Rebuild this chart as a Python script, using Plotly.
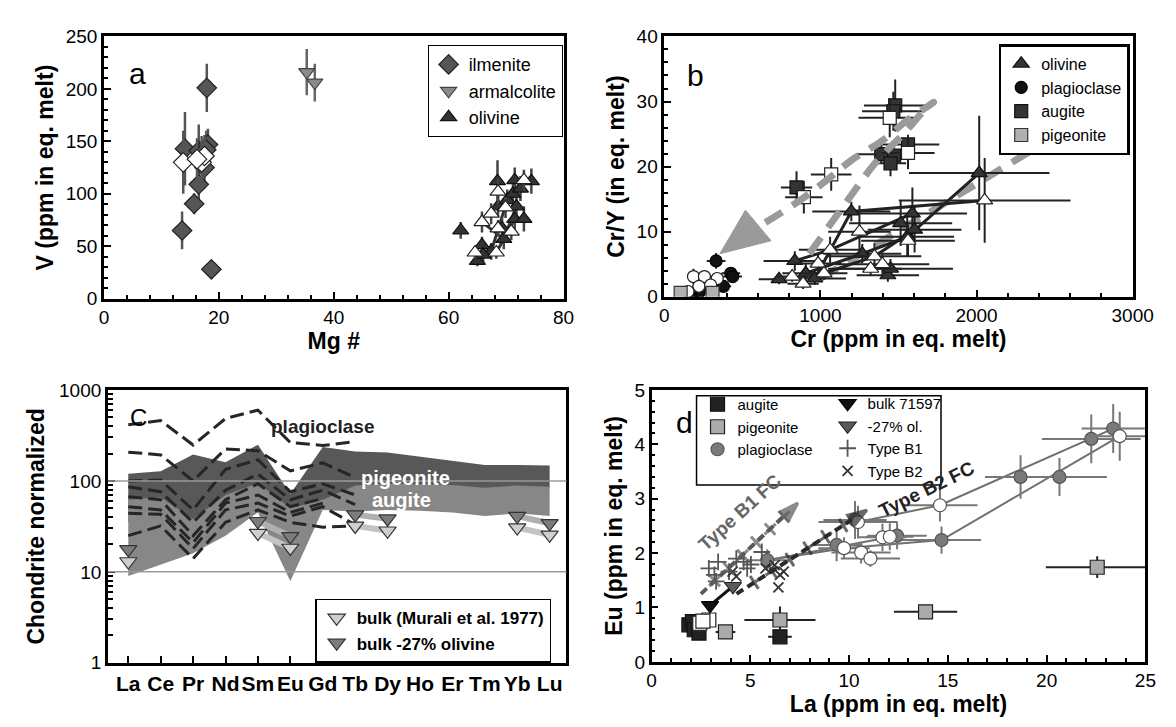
import plotly.graph_objects as go

FONT = "Liberation Sans, Arial, sans-serif"

# ================= Panel a : V vs Mg# =================
ilm_mg = [17.9, 14.1, 16.5, 18.1, 17.8, 17.5, 16.5, 15.7, 13.6, 18.7]
ilm_v = [201, 143, 141, 147, 142, 125, 109, 90.5, 65, 28]
ilm_verr = [23, 35, 25, 15, 18, 20, 15, 10, 18, 3]
ilm2_mg = [13.8, 17.0, 17.5, 16.2]
ilm2_v = [130, 130, 136, 133]
ilm2_verr = [30, 25, 20, 20]
arm_mg = [35.3, 36.7]
arm_v = [216, 206]
arm_verr = [22, 18]
ola_mg = [62.1, 65.0, 65.8, 68.5, 71.5, 74.4, 71.5, 68.6, 70.2, 67.4, 69.6, 71.2, 73.1, 69.3, 71.8, 66.0, 72.5]
ola_v = [65, 36, 51, 112, 113, 112, 76, 88, 94, 45, 57, 100, 76, 67, 88, 42, 105]
ola_verr = [8, 5, 8, 20, 12, 12, 15, 10, 10, 8, 10, 15, 12, 10, 15, 8, 12]
ola2_mg = [64.6, 65.8, 67.4, 68.6, 69.9, 68.6, 70.9, 73.1, 68.3]
ola2_v = [44, 73, 81, 102, 87, 67, 64, 113, 44]
ola2_verr = [6, 10, 10, 12, 10, 8, 8, 10, 6]
ola_line1_mg = [68.3, 71.5]
ola_line1_v = [44, 76]
ola_line2_mg = [65.8, 69.6, 71.8]
ola_line2_v = [73, 57, 88]
ola_line3_mg = [67.4, 70.2, 72.5]
ola_line3_v = [45, 94, 105]

# ================= Panel b : Cr/Y vs Cr =================
aug_cr = [847, 1479, 1467, 1561, 1390, 1472, 1449]
aug_cry = [16.8, 29.4, 28.5, 23.4, 21.9, 21.7, 20.5]
aug_crerr = [100, 200, 200, 200, 150, 100, 100]
aug_cryerr = [2.5, 4.0, 3.0, 1.5, 1.5, 1.2, 2.0]
aug2_cr = [894, 1069, 1444, 1561]
aug2_cry = [15.3, 18.8, 27.5, 22.1]
aug2_crerr = [120, 130, 200, 170]
aug2_cryerr = [2.5, 2.5, 3.0, 2.5]
olb_cr = [735, 836, 906, 964, 1198, 1268, 1432, 1449, 1514, 1556, 1589, 1603, 2017]
olb_cry = [2.7, 5.5, 3.6, 2.8, 13.1, 6.6, 3.3, 4.3, 11.3, 9.2, 12.8, 10.3, 19.0]
olb_crerr = [130, 200, 150, 200, 250, 250, 200, 400, 330, 300, 350, 300, 450]
olb_cryerr = [0.8, 1.5, 1.5, 1.0, 1.5, 1.5, 1.0, 1.5, 3.5, 3.0, 4.0, 3.5, 8.8]
olb2_cr = [819, 889, 985, 1023, 1062, 1250, 1322, 1346, 1397, 1561, 2052]
olb2_cry = [3.1, 2.0, 5.1, 3.6, 7.2, 10.0, 4.3, 6.2, 5.0, 8.6, 14.8]
olb2_crerr = [100, 100, 150, 150, 200, 200, 200, 300, 300, 300, 550]
olb2_cryerr = [0.8, 0.8, 1.5, 1.0, 2.0, 4.0, 1.0, 2.0, 1.5, 2.5, 6.5]
olb_line1_cr = [964, 1198, 2052]
olb_line1_cry = [2.8, 13.1, 14.8]
olb_line2_cr = [906, 1268, 1556, 2017]
olb_line2_cry = [3.6, 6.6, 9.2, 19.0]
olb_line3_cr = [1023, 1346, 1603]
olb_line3_cry = [3.6, 6.2, 10.3]
olb_line4_cr = [836, 1062, 1589]
olb_line4_cry = [5.5, 7.2, 12.8]
plb_cr = [332, 426, 438, 379, 180, 227]
plb_cry = [5.5, 3.6, 3.1, 1.6, 0.2, 0.8]
plb_crerr = [60, 60, 60, 50, 30, 30]
plb_cryerr = [1.2, 0.8, 0.8, 0.6, 0.2, 0.3]
plb2_cr = [187, 257, 222, 339, 297, 152]
plb2_cry = [3.1, 3.1, 1.6, 2.8, 1.8, 0.8]
plb2_crerr = [40, 40, 40, 40, 40, 30]
plb2_cryerr = [1.2, 1.0, 0.6, 0.8, 0.6, 0.3]
pigb_cr = [105, 309]
pigb_cry = [0.6, 0.6]
trend1_cr = [929, 1150, 1350, 1550, 1678, 1725, 1690, 1560, 1397, 1200, 1046, 850, 620]
trend1_cry = [6.6, 14.0, 20.5, 25.5, 29.0, 29.9, 29.3, 27.2, 24.0, 21.0, 18.0, 14.5, 11.0]
trend1_head_cr = [356, 520, 684, 356]
trend1_head_cry = [6.6, 13.3, 8.6, 6.6]
trend2_cr = [1000, 2368]
trend2_cry = [2.8, 22.7]

# ================= Panel c : REE patterns =================
ree = ["La", "Ce", "Pr", "Nd", "Sm", "Eu", "Gd", "Tb", "Dy", "Ho", "Er", "Tm", "Yb", "Lu"]
pig_top = [120, 128, 195, 160, 250, 72, 236, 210, 205, 185, 165, 150, 150, 148]
pig_bot = [35, 40, 22, 50, 60, 35, 55, 80, 85, 85, 84, 80, 84, 82]
aug_top = [62, 66, 38, 70, 95, 50, 62, 89, 93, 92, 90, 84, 89, 86]
aug_bot = [9, 12, 16, 25, 45, 7.9, 48, 46, 48, 47, 45, 41, 44, 41]
plag_ree = ree[:8]
plag_patterns = [
    [415, 460, 248, 485, 600, 264, 245, 270],
    [207, 193, 100, 225, 214, 129, 158, 109],
    [100, 102, 48, 134, 171, 76, 93, 70],
    [86, 76, 35, 79, 119, 62, 79, 55],
    [67, 62, 25, 62, 93, 52, 64, None],
    [52, 48, 21, 57, 70, 45, 57, None],
    [44, 43, 18, 48, 57, 41, 52, 33],
    [25, 32, 14, 35, 48, 35, 31, 32],
]
bulk_murali = [13, None, None, None, 26.7, 18.3, None, 32, 28.3, None, None, None, 30.7, 25.5]
bulk_minus_ol = [17.7, None, None, None, 36, 24.6, None, 42.6, 38.4, None, None, None, 41, 34.2]
log_tickvals = [1, 10, 100, 1000]
log_minor_tickvals = [2, 3, 4, 5, 6, 7, 8, 9, 20, 30, 40, 50, 60, 70, 80, 90,
                      200, 300, 400, 500, 600, 700, 800, 900]

# ================= Panel d : Eu vs La =================
augd_la = [1.89, 2.07, 2.16, 2.4, 6.5]
augd_eu = [0.68, 0.74, 0.59, 0.53, 0.46]
augd_laerr = [0.2, 0.2, 0.2, 0.2, 0.6]
augd_euerr = [0.05, 0.05, 0.05, 0.05, 0.05]
pigd_la = [3.74, 6.5, 13.87, 22.56]
pigd_eu = [0.55, 0.77, 0.92, 1.74]
pigd_laerr = [0.5, 1.8, 1.6, 2.6]
pigd_euerr = [0.04, 0.25, 0.05, 0.2]
sqd2_la = [2.44, 2.9, 2.6]
sqd2_eu = [0.71, 0.77, 0.75]
pld_la = [5.86, 9.37, 10.3, 12.43, 14.68, 18.68, 20.65, 22.26, 23.37]
pld_eu = [1.87, 2.15, 2.61, 2.32, 2.24, 3.40, 3.40, 4.10, 4.29]
pld_laerr = [1.0, 1.3, 1.6, 1.5, 2.0, 1.8, 2.4, 2.5, 1.6]
pld_euerr = [0.2, 0.3, 0.35, 0.25, 0.25, 0.4, 0.35, 0.45, 0.45]
pld2_la = [9.74, 10.45, 10.61, 11.08, 11.69, 12.06, 14.6, 23.7]
pld2_eu = [2.09, 2.57, 2.01, 1.90, 2.29, 2.30, 2.88, 4.15]
pld2_laerr = [1.3, 2.0, 1.5, 1.5, 1.2, 1.2, 1.9, 1.5]
pld2_euerr = [0.2, 0.3, 0.2, 0.15, 0.25, 0.25, 0.3, 0.45]
pld_line1_la = [5.86, 12.43]
pld_line1_eu = [1.87, 2.32]
pld_line2_la = [5.86, 9.74, 14.68, 23.7]
pld_line2_eu = [1.87, 2.09, 2.24, 4.15]
pld_line3_la = [10.45, 14.6, 23.37]
pld_line3_eu = [2.57, 2.88, 4.29]
bulk_la = [2.96, 4.12]
bulk_eu = [1.04, 1.39]
typeb1_la = [2.9, 3.37, 4.66, 5.03, 5.58, 4.29, 4.84, 3.18, 3.92, 3.27]
typeb1_eu = [1.72, 1.84, 1.84, 1.79, 2.02, 1.90, 1.72, 1.60, 1.66, 1.48]
typeb2_la = [4.1, 4.29, 6.42, 6.5, 5.77, 6.69, 6.23]
typeb2_eu = [1.66, 1.57, 1.37, 1.60, 1.72, 1.66, 1.78]
fc_b1_la = [2.5, 3.2, 3.9, 4.6, 5.3, 6.0, 6.7, 7.4]
fc_b1_eu = [1.25, 1.49, 1.72, 1.96, 2.2, 2.44, 2.67, 2.92]
fc_b2_la = [4.3, 5.2, 6.1, 7.0, 7.9, 8.8, 9.7, 10.9]
fc_b2_eu = [1.25, 1.46, 1.67, 1.88, 2.09, 2.3, 2.51, 2.79]

fig = go.Figure()


def mk(symbol, size, color, lc="#111", lw=1.2):
    return dict(symbol=symbol, size=size, color=color, line=dict(color=lc, width=lw))


def err(arr, color, th=2.2):
    return dict(type="data", array=arr, color=color, thickness=th, width=0)


# ---------- panel a traces
fig.add_trace(go.Scatter(x=ilm_mg, y=ilm_v, mode="markers", name="ilmenite", legend="legend", legendrank=1,
                         marker=mk("diamond", 15, "#555555", "#222"), error_y=err(ilm_verr, "#555", 2.5),
                         xaxis="x", yaxis="y"))
fig.add_trace(go.Scatter(x=ilm2_mg, y=ilm2_v, mode="markers", showlegend=False,
                         marker=mk("diamond", 15, "white", "#222"), error_y=err(ilm2_verr, "#555", 2.5),
                         xaxis="x", yaxis="y"))
fig.add_trace(go.Scatter(x=arm_mg, y=arm_v, mode="markers", name="armalcolite", legend="legend", legendrank=2,
                         marker=mk("triangle-down", 14, "#8a8a8a", "#444"), error_y=err(arm_verr, "#666", 2.5),
                         xaxis="x", yaxis="y"))
for lx, ly in [(ola_line1_mg, ola_line1_v), (ola_line2_mg, ola_line2_v), (ola_line3_mg, ola_line3_v)]:
    fig.add_trace(go.Scatter(x=lx, y=ly, mode="lines", showlegend=False,
                             line=dict(color="#333", width=3), xaxis="x", yaxis="y"))
fig.add_trace(go.Scatter(x=ola_mg, y=ola_v, mode="markers", name="olivine", legend="legend", legendrank=3,
                         marker=mk("triangle-up", 14, "#333333", "#111"), error_y=err(ola_verr, "#444", 2.5),
                         xaxis="x", yaxis="y"))
fig.add_trace(go.Scatter(x=ola2_mg, y=ola2_v, mode="markers", showlegend=False,
                         marker=mk("triangle-up", 14, "white", "#222"), error_y=err(ola2_verr, "#444", 2.5),
                         xaxis="x", yaxis="y"))

# ---------- panel b traces
fig.add_trace(go.Scatter(x=trend2_cr, y=trend2_cry, mode="lines", showlegend=False,
                         line=dict(color="#9a9a9a", width=7, dash="20px,12px"), xaxis="x2", yaxis="y2"))
for lx, ly in [(olb_line1_cr, olb_line1_cry), (olb_line2_cr, olb_line2_cry),
               (olb_line3_cr, olb_line3_cry), (olb_line4_cr, olb_line4_cry)]:
    fig.add_trace(go.Scatter(x=lx, y=ly, mode="lines", showlegend=False,
                             line=dict(color="#222", width=3), xaxis="x2", yaxis="y2"))
fig.add_trace(go.Scatter(x=olb_cr, y=olb_cry, mode="markers", name="olivine", legend="legend2", legendrank=1,
                         marker=mk("triangle-up", 14, "#333333", "#111"),
                         error_x=err(olb_crerr, "#222", 2), error_y=err(olb_cryerr, "#222", 2),
                         xaxis="x2", yaxis="y2"))
fig.add_trace(go.Scatter(x=olb2_cr, y=olb2_cry, mode="markers", showlegend=False,
                         marker=mk("triangle-up", 14, "white", "#222"),
                         error_x=err(olb2_crerr, "#222", 2), error_y=err(olb2_cryerr, "#222", 2),
                         xaxis="x2", yaxis="y2"))
fig.add_trace(go.Scatter(x=plb_cr, y=plb_cry, mode="markers", name="plagioclase", legend="legend2", legendrank=2,
                         marker=mk("circle", 12, "#111111", "#000"),
                         error_x=err(plb_crerr, "#222", 2), error_y=err(plb_cryerr, "#222", 2),
                         xaxis="x2", yaxis="y2"))
fig.add_trace(go.Scatter(x=plb2_cr, y=plb2_cry, mode="markers", showlegend=False,
                         marker=mk("circle", 12, "white", "#222"),
                         error_x=err(plb2_crerr, "#222", 2), error_y=err(plb2_cryerr, "#222", 2),
                         xaxis="x2", yaxis="y2"))
fig.add_trace(go.Scatter(x=aug_cr, y=aug_cry, mode="markers", name="augite", legend="legend2", legendrank=3,
                         marker=mk("square", 13, "#333333", "#111"),
                         error_x=err(aug_crerr, "#222", 2), error_y=err(aug_cryerr, "#222", 2),
                         xaxis="x2", yaxis="y2"))
fig.add_trace(go.Scatter(x=aug2_cr, y=aug2_cry, mode="markers", showlegend=False,
                         marker=mk("square", 13, "white", "#222"),
                         error_x=err(aug2_crerr, "#222", 2), error_y=err(aug2_cryerr, "#222", 2),
                         xaxis="x2", yaxis="y2"))
fig.add_trace(go.Scatter(x=pigb_cr, y=pigb_cry, mode="markers", name="pigeonite", legend="legend2", legendrank=4,
                         marker=mk("square", 13, "#b0b0b0", "#333"), xaxis="x2", yaxis="y2"))
fig.add_trace(go.Scatter(x=trend1_cr, y=trend1_cry, mode="lines", showlegend=False,
                         line=dict(color="#9a9a9a", width=7, dash="20px,12px", shape="spline"),
                         xaxis="x2", yaxis="y2"))
fig.add_trace(go.Scatter(x=trend1_head_cr, y=trend1_head_cry, mode="lines", fill="toself",
                         fillcolor="#9a9a9a", line=dict(color="#9a9a9a", width=1), showlegend=False,
                         xaxis="x2", yaxis="y2"))

# ---------- panel c traces
fig.add_trace(go.Scatter(x=ree + ree[::-1], y=pig_top + pig_bot[::-1], mode="lines", fill="toself",
                         fillcolor="#585858", line=dict(width=0, color="#585858"), showlegend=False,
                         xaxis="x3", yaxis="y3"))
fig.add_trace(go.Scatter(x=ree + ree[::-1], y=aug_top + aug_bot[::-1], mode="lines", fill="toself",
                         fillcolor="#878787", line=dict(width=0, color="#878787"), showlegend=False,
                         xaxis="x3", yaxis="y3"))
for pat in plag_patterns:
    fig.add_trace(go.Scatter(x=plag_ree, y=pat, mode="lines", showlegend=False,
                             line=dict(color="#262626", width=3, dash="14px,6px"),
                             xaxis="x3", yaxis="y3"))
fig.add_trace(go.Scatter(x=ree, y=bulk_murali, mode="lines", showlegend=False,
                         line=dict(color="#c4c4c4", width=6), xaxis="x3", yaxis="y3"))
fig.add_trace(go.Scatter(x=ree, y=bulk_minus_ol, mode="lines", showlegend=False,
                         line=dict(color="#b0b0b0", width=6), xaxis="x3", yaxis="y3"))
fig.add_trace(go.Scatter(x=ree, y=bulk_murali, mode="markers", name="<b>bulk (Murali et al. 1977)</b>",
                         legend="legend3", legendrank=1, marker=mk("triangle-down", 15, "#cfcfcf", "#333"),
                         xaxis="x3", yaxis="y3"))
fig.add_trace(go.Scatter(x=ree, y=bulk_minus_ol, mode="markers", name="<b>bulk -27% olivine</b>",
                         legend="legend3", legendrank=2, marker=mk("triangle-down", 15, "#7c7c7c", "#333"),
                         xaxis="x3", yaxis="y3"))

# ---------- panel d traces
fig.add_trace(go.Scatter(x=augd_la, y=augd_eu, mode="markers", name="augite", legend="legend4", legendrank=1,
                         marker=mk("square", 14, "#222222", "#111"),
                         error_x=err(augd_laerr, "#222", 2), error_y=err(augd_euerr, "#222", 2),
                         xaxis="x4", yaxis="y4"))
fig.add_trace(go.Scatter(x=pigd_la, y=pigd_eu, mode="markers", name="pigeonite", legend="legend4", legendrank=2,
                         marker=mk("square", 14, "#ababab", "#222"),
                         error_x=err(pigd_laerr, "#222", 2), error_y=err(pigd_euerr, "#222", 2),
                         xaxis="x4", yaxis="y4"))
fig.add_trace(go.Scatter(x=sqd2_la, y=sqd2_eu, mode="markers", showlegend=False,
                         marker=mk("square", 14, "white", "#222"), xaxis="x4", yaxis="y4"))
for lx, ly in [(pld_line1_la, pld_line1_eu), (pld_line2_la, pld_line2_eu), (pld_line3_la, pld_line3_eu)]:
    fig.add_trace(go.Scatter(x=lx, y=ly, mode="lines", showlegend=False,
                             line=dict(color="#707070", width=2), xaxis="x4", yaxis="y4"))
fig.add_trace(go.Scatter(x=pld_la, y=pld_eu, mode="markers", name="plagioclase", legend="legend4", legendrank=3,
                         marker=mk("circle", 13, "#7a7a7a", "#555"),
                         error_x=err(pld_laerr, "#777", 2), error_y=err(pld_euerr, "#777", 2),
                         xaxis="x4", yaxis="y4"))
fig.add_trace(go.Scatter(x=pld2_la, y=pld2_eu, mode="markers", showlegend=False,
                         marker=mk("circle", 13, "white", "#555"),
                         error_x=err(pld2_laerr, "#777", 2), error_y=err(pld2_euerr, "#777", 2),
                         xaxis="x4", yaxis="y4"))
fig.add_trace(go.Scatter(x=typeb1_la, y=typeb1_eu, mode="markers", name="Type B1", legend="legend5", legendrank=3,
                         marker=dict(symbol="cross-thin", size=12, color="#555", line=dict(color="#555", width=1.8)),
                         xaxis="x4", yaxis="y4"))
fig.add_trace(go.Scatter(x=typeb2_la, y=typeb2_eu, mode="markers", name="Type B2", legend="legend5", legendrank=4,
                         marker=dict(symbol="x-thin", size=10, color="#333", line=dict(color="#333", width=1.8)),
                         xaxis="x4", yaxis="y4"))
n1 = len(fc_b1_la)
fig.add_trace(go.Scatter(x=fc_b1_la, y=fc_b1_eu, mode="lines+markers", showlegend=False,
                         line=dict(color="#5a5a5a", width=4, dash="8px,5px"),
                         marker=dict(symbol=["cross-thin"] * (n1 - 1) + ["arrow"], size=[11] * (n1 - 1) + [20],
                                     angleref="previous", color="#5a5a5a",
                                     line=dict(color="#5a5a5a", width=3)),
                         xaxis="x4", yaxis="y4"))
n2 = len(fc_b2_la)
fig.add_trace(go.Scatter(x=fc_b2_la, y=fc_b2_eu, mode="lines+markers", showlegend=False,
                         line=dict(color="#2a2a2a", width=4, dash="8px,5px"),
                         marker=dict(symbol=["cross-thin"] * (n2 - 1) + ["arrow"], size=[11] * (n2 - 1) + [20],
                                     angleref="previous", color="#2a2a2a",
                                     line=dict(color="#2a2a2a", width=3)),
                         xaxis="x4", yaxis="y4"))
fig.add_trace(go.Scatter(x=bulk_la, y=bulk_eu, mode="lines", showlegend=False,
                         line=dict(color="#111", width=3), xaxis="x4", yaxis="y4"))
fig.add_trace(go.Scatter(x=bulk_la[:1], y=bulk_eu[:1], mode="markers", name="bulk 71597", legend="legend5",
                         legendrank=1, marker=mk("triangle-down", 15, "#111111", "#000"), xaxis="x4", yaxis="y4"))
fig.add_trace(go.Scatter(x=bulk_la[1:], y=bulk_eu[1:], mode="markers", name="-27% ol.", legend="legend5",
                         legendrank=2, marker=mk("triangle-down", 15, "#5a5a5a", "#222"), xaxis="x4", yaxis="y4"))

TICK = 19
TITLE = 23


# ---------- axes
def axis(domain, anchor, rng, dtick, minor, title, standoff, **extra):
    d = dict(domain=domain, anchor=anchor, range=rng, dtick=dtick, tick0=0,
             showline=True, linecolor="black", linewidth=2.5, mirror=True,
             ticks="inside", ticklen=7, tickwidth=2, tickcolor="black",
             showgrid=False, zeroline=False,
             tickfont=dict(family=FONT, size=TICK, color="black"),
             title=dict(text=title, standoff=standoff,
                        font=dict(family=FONT, size=TITLE, color="black", weight="bold")))
    if minor:
        d["minor"] = dict(ticks="inside", ticklen=4, tickwidth=1.5, tickcolor="black", dtick=minor, showgrid=False)
    d.update(extra)
    return d


W, H = 1176, 727
xa = [93 / W, 563 / W]
ya = [1 - 289 / H, 1 - 19 / H]
xb = [666 / W, 1145 / W]
yb = [1 - 287 / H, 1 - 19 / H]
xc = [97 / W, 566 / W]
yc = [1 - 664 / H, 1 - 383 / H]
xd = [653 / W, 1158 / W]
yd = [1 - 663 / H, 1 - 383 / H]

legend_common = dict(xanchor="left", yanchor="top", bgcolor="white", bordercolor="black",
                     itemwidth=30, tracegroupgap=0)
clear = "rgba(0,0,0,0)"

fig.update_layout(
    width=W, height=H, autosize=False, margin=dict(l=0, r=0, t=0, b=0),
    paper_bgcolor="white", plot_bgcolor="white",
    font=dict(family=FONT, color="black"),
    xaxis=axis(xa, "y", [0, 80], 20, 4, "Mg #", 4),
    yaxis=axis(ya, "x", [0, 250], 50, 10, "V (ppm in eq. melt)", 6),
    xaxis2=axis(xb, "y2", [0, 3000], 1000, 200, "Cr (ppm in eq. melt)", 4),
    yaxis2=axis(yb, "x2", [0, 40], 10, 2, "Cr/Y (in eq. melt)", 6),
    xaxis3=dict(domain=xc, anchor="y3", type="category", categoryorder="array", categoryarray=ree,
                range=[-0.63, 13.52], showline=True, linecolor="black", linewidth=2.5, mirror=True,
                ticks="inside", ticklen=7, tickwidth=2, tickcolor="black", showgrid=False, zeroline=False,
                tickfont=dict(family=FONT, size=21, color="black", weight="bold")),
    yaxis3=dict(domain=yc, anchor="x3", type="log", range=[0, 3], tickmode="array", tickvals=log_tickvals,
                showline=True, linecolor="black", linewidth=2.5, mirror=True,
                ticks="inside", ticklen=7, tickwidth=2, tickcolor="black", showgrid=False, zeroline=False,
                minor=dict(ticks="inside", ticklen=5, tickwidth=1.5, tickcolor="black",
                           tickmode="array", tickvals=log_minor_tickvals, showgrid=False),
                tickfont=dict(family=FONT, size=TICK, color="black"),
                title=dict(text="Chondrite normalized", standoff=8,
                           font=dict(family=FONT, size=TITLE, color="black", weight="bold"))),
    xaxis4=axis(xd, "y4", [0, 25], 5, 1, "La (ppm in eq. melt)", 4),
    yaxis4=axis(yd, "x4", [0, 5], 1, 0.2, "Eu (ppm in eq. melt)", 6),
    legend=dict(x=424 / W, y=1 - 28 / H, borderwidth=1, font=dict(family=FONT, size=18, color="black"),
                **legend_common),
    legend2=dict(x=1008 / W, y=1 - 27 / H, borderwidth=2.5, font=dict(family=FONT, size=16, color="black"),
                 **legend_common),
    legend3=dict(x=309 / W, y=1 - 598 / H, borderwidth=1.5, font=dict(family=FONT, size=17, color="black"),
                 **legend_common),
    legend4=dict(x=700 / W, y=1 - 381 / H, borderwidth=0, font=dict(family=FONT, size=15, color="black"),
                 **{**legend_common, "bgcolor": clear}),
    legend5=dict(x=833 / W, y=1 - 380 / H, borderwidth=0, font=dict(family=FONT, size=15, color="black"),
                 **{**legend_common, "bgcolor": clear}),
    shapes=[
        dict(type="line", xref="x3 domain", yref="y3 domain", x0=0, x1=1, y0=1 / 3, y1=1 / 3,
             line=dict(color="#9a9a9a", width=1.5), layer="above"),
        dict(type="line", xref="x3 domain", yref="y3 domain", x0=0, x1=1, y0=2 / 3, y1=2 / 3,
             line=dict(color="#9a9a9a", width=1.5), layer="above"),
        dict(type="rect", xref="paper", yref="paper", x0=699 / W, x1=949 / W, y0=1 - 481 / H, y1=1 - 389 / H,
             line=dict(color="black", width=1.5), fillcolor="white", layer="below"),
    ],
    annotations=[
        dict(text="a", xref="x domain", yref="y domain", x=0.05, y=0.93, showarrow=False,
             font=dict(family=FONT, size=30, color="black")),
        dict(text="b", xref="x2 domain", yref="y2 domain", x=0.045, y=0.92, showarrow=False,
             font=dict(family=FONT, size=30, color="black")),
        dict(text="C", xref="x3 domain", yref="y3 domain", x=0.045, y=0.955, showarrow=False,
             font=dict(family=FONT, size=24, color="black")),
        dict(text="d", xref="x4 domain", yref="y4 domain", x=0.045, y=0.95, showarrow=False,
             font=dict(family=FONT, size=30, color="black")),
        dict(text="plagioclase", xref="x3 domain", yref="y3 domain", x=0.47, y=0.91, showarrow=False,
             font=dict(family=FONT, size=19, color="#222", weight="bold")),
        dict(text="pigeonite", xref="x3 domain", yref="y3 domain", x=0.648, y=0.725, showarrow=False,
             font=dict(family=FONT, size=20, color="white", weight="bold")),
        dict(text="augite", xref="x3 domain", yref="y3 domain", x=0.708, y=0.595, showarrow=False,
             font=dict(family=FONT, size=20, color="white", weight="bold")),
        dict(text="Type B1 FC", xref="x4", yref="y4", x=4.45, y=2.75, showarrow=False, textangle=-42,
             font=dict(family=FONT, size=19, color="#666", weight="bold")),
        dict(text="Type B2 FC", xref="x4", yref="y4", x=13.9, y=3.17, showarrow=False, textangle=-26,
             font=dict(family=FONT, size=19, color="#222", weight="bold")),
    ],
)

fig.write_html("out.html")
